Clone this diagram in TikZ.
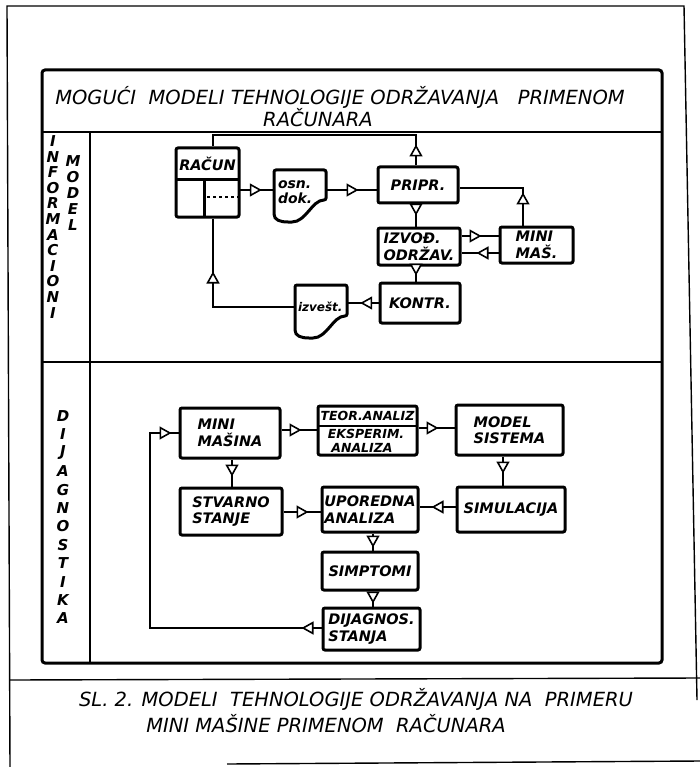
\documentclass[tikz,border=0pt]{standalone}
\usepackage{fontspec}
\setmainfont{DejaVu Sans}
\newfontfamily\hand{DejaVu Sans}
\usetikzlibrary{arrows.meta,decorations.markings}
\newcommand\mytri{\arrow{Triangle[length=12pt,width=13pt,fill=white,line width=1.6pt]}}
\tikzset{
  flow/.style={draw, line width=1.4pt, postaction={decorate},
    decoration={markings, mark=at position #1 with {\mytri}}},
  flowtwo/.style 2 args={draw, line width=1.4pt, postaction={decorate},
    decoration={markings, mark=at position #1 with {\mytri}, mark=at position #2 with {\mytri}}},
  bx/.style={draw, line width=3pt, rounded corners=2pt, inner sep=0pt, align=left,
    font=\hand\itshape\bfseries\fontsize{14.5}{16.5}\selectfont},
  plain/.style={inner sep=0pt, align=left, font=\hand\itshape\bfseries\fontsize{14.5}{16.5}\selectfont},
  lbl/.style={inner sep=0pt, font=\hand\itshape\bfseries\fontsize{15}{15}\selectfont},
  frame/.style={line width=3pt},
  thin/.style={line width=1.4pt},
  ttl/.style={inner sep=0pt, font=\hand\itshape\fontsize{19.5}{21}\selectfont},
}
\newcommand\mybox[7][]{\node[bx,#1, minimum width={(#5-#3)*1pt}, minimum height={(#6-#4)*1pt}] (#2) at ({(#3+#5)/2},{(#4+#6)/2}) {#7};}
\begin{document}
\begin{tikzpicture}[x=1pt,y=-1pt]
\useasboundingbox (0,0) rectangle (700,767);
% outer frame
\draw[thin] (10,767) -- (7,6) -- (684,6) -- (697,700);
\draw[thin] (10,680) -- (700,678);
\draw[thin] (227,764) -- (700,761);
% inner frame
\draw[frame, rounded corners=3pt] (42,70) rectangle (662,663);
\draw[line width=2.5pt] (42,132) -- (662,132);
\draw[line width=2.5pt] (42,362) -- (662,362);
\draw[line width=2.5pt] (90,132) -- (90,663);
% title
\node[ttl] (title1) at (340,97) {MOGUĆI\ \ MODELI TEHNOLOGIJE ODRŽAVANJA\ \ \ PRIMENOM};
\node[ttl] (title2) at (318,118) {RAČUNARA};
% caption
\node[ttl, font=\hand\itshape\fontsize{19.5}{21}\selectfont] (cap1) at (356,699) {SL. 2. MODELI\ \ TEHNOLOGIJE ODRŽAVANJA NA\ \ PRIMERU};
\node[ttl, font=\hand\itshape\fontsize{19.5}{21}\selectfont] (cap2) at (326,724) {MINI MAŠINE PRIMENOM\ \ RAČUNARA};
% vertical labels
\foreach \ch [count=\i] in {I,N,F,O,R,M,A,C,I,O,N,I}
  \node[lbl] (inf\i) at (53,{141+(\i-1)*15.6}) {\ch};
\foreach \ch [count=\i] in {M,O,D,E,L}
  \node[lbl] (mod\i) at (73,{161+(\i-1)*16}) {\ch};
\foreach \ch [count=\i] in {D,I,J,A,G,N,O,S,T,I,K,A}
  \node[lbl] (dij\i) at (63,{416+(\i-1)*18.4}) {\ch};
% ===== informacioni model =====
\mybox{racun}{176}{148}{239}{217}{}
\draw[line width=3pt] (176,180) -- (239,180);
\draw[line width=3pt] (204,180) -- (204,217);
\draw[line width=1.3pt, dashed] (207,197) -- (238,197);
\node[plain] (racuntxt) at (207.5,164) {RAČUN};
% osn. dok.
\node[plain, font=\hand\itshape\bfseries\fontsize{14}{15}\selectfont, minimum width=52pt, minimum height=44pt, text width=44pt] (osn) at (300,192) {osn.\\dok.};
\draw[line width=3pt, rounded corners=2pt] (274,170) -- (326,170) -- (326,200)
  .. controls (312,200) and (306,222) .. (290,222) .. controls (280,222) and (274,220) .. (274,212) -- cycle;
% izvest
\node[plain, font=\hand\itshape\bfseries\fontsize{12}{12}\selectfont, minimum width=52pt, minimum height=44pt, text width=46pt] (izv) at (321,307) {izvešt.};
\draw[line width=3pt, rounded corners=2pt] (295,285) -- (347,285) -- (347,316)
  .. controls (333,316) and (327,338) .. (311,338) .. controls (301,338) and (295,336) .. (295,328) -- cycle;
\mybox{pripr}{378}{167}{458}{203}{PRIPR.}
\mybox{izvod}{378}{228}{460}{265}{IZVOĐ.\\ODRŽAV.}
\mybox{minimas}{500}{227}{573}{263}{MINI\\MAŠ.}
\mybox{kontr}{380}{283}{460}{323}{KONTR.}
% connectors
\draw[flow=-12pt] (239,190) -- (osn.west |- 239,190);
\draw[flow=-18pt] (osn.east |- 0,190) -- (pripr.west |- 0,190);
\draw[flow=21pt] (pripr.north -| 416,0) -- (416,135) -- (213,135) -- (racun.north -| 213,0);
\draw[flow=-11pt] (pripr.south -| 416,0) -- (izvod.north -| 416,0);
\draw[flow=33pt] (minimas.north -| 523,0) -- (523,188) -- (pripr.east |- 0,188);
\draw[flow=-17pt] (izvod.east |- 0,236) -- (minimas.west |- 0,236);
\draw[flow=-15pt] (minimas.west |- 0,253) -- (izvod.east |- 0,253);
\draw[flow=-6pt] (izvod.south -| 416,0) -- (kontr.north -| 416,0);
\draw[flow=-13pt] (kontr.west |- 0,303) -- (izv.east |- 0,303);
\draw[flow=-53pt] (izv.west |- 0,307) -- (213,307) -- (racun.south -| 213,0);
% ===== dijagnostika =====
\mybox{minim}{180}{408}{280}{458}{MINI\\MAŠINA}
\node[bx, minimum width=99pt, minimum height=49pt] (teor) at (367.5,430.5) {};
\draw[line width=2pt] (318,426) -- (417,426);
\node[plain, font=\hand\itshape\bfseries\fontsize{12.5}{12.5}\selectfont] (teor1) at (367.5,416) {TEOR.ANALIZ};
\node[plain, font=\hand\itshape\bfseries\fontsize{12.5}{12.5}\selectfont] (teor2) at (366,434) {EKSPERIM.};
\node[plain, font=\hand\itshape\bfseries\fontsize{12.5}{12.5}\selectfont] (teor3) at (362,448) {ANALIZA};
\mybox{model}{456}{405}{563}{455}{MODEL\\SISTEMA}
\mybox{stvarno}{180}{488}{282}{535}{STVARNO\\STANJE}
\mybox{upor}{322}{487}{418}{532}{UPOREDNA\\ANALIZA}
\mybox{simul}{457}{487}{565}{532}{SIMULACIJA}
\mybox{simpt}{322}{552}{418}{590}{SIMPTOMI}
\mybox{dijag}{323}{608}{420}{650}{DIJAGNOS.\\STANJA}
\draw[flowtwo={20pt}{-7pt}] (dijag.west |- 0,628) -- (150,628) -- (150,433) -- (minim.west |- 0,433);
\draw[flow=-15pt] (minim.east |- 0,430) -- (teor.west |- 0,430);
\draw[flow=-16pt] (teor.east |- 0,428) -- (model.west |- 0,428);
\draw[flow=-12pt] (model.south -| 503,0) -- (simul.north -| 503,0);
\draw[flow=-12pt] (simul.west |- 0,507) -- (upor.east |- 0,507);
\draw[flow=-10pt] (minim.south -| 232,0) -- (stvarno.north -| 232,0);
\draw[flow=-12pt] (stvarno.east |- 0,512) -- (upor.west |- 0,512);
\draw[flow=-3pt] (upor.south -| 373,0) -- (simpt.north -| 373,0);
\draw[flow=-3pt] (simpt.south -| 373,0) -- (dijag.north -| 373,0);
\end{tikzpicture}
\end{document}
